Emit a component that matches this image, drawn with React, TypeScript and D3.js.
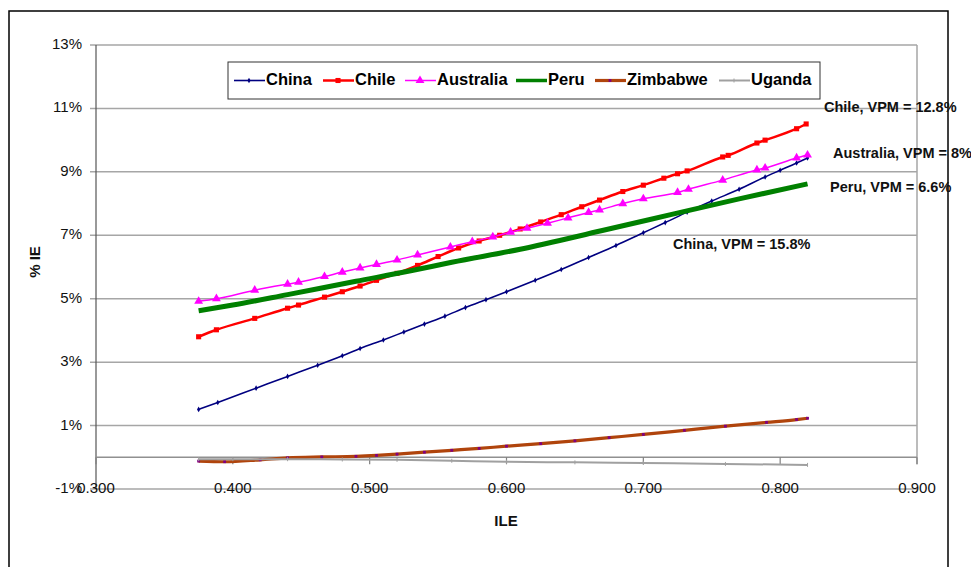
import React from "react";
import * as d3 from "d3";

// ILE (x) vs %IE (y) readings for each country
const chinaData: [number, number][] = [
  [0.375, 1.51], [0.389, 1.73], [0.417, 2.18], [0.44, 2.55], [0.462, 2.9], [0.48, 3.2],
  [0.493, 3.43], [0.51, 3.7], [0.525, 3.95], [0.54, 4.2], [0.555, 4.45], [0.57, 4.72],
  [0.585, 4.97], [0.6, 5.22], [0.621, 5.58], [0.64, 5.92], [0.66, 6.3], [0.68, 6.68],
  [0.7, 7.08], [0.716, 7.4], [0.732, 7.73], [0.75, 8.08], [0.77, 8.45], [0.789, 8.84],
  [0.8, 9.05], [0.812, 9.28], [0.82, 9.44],
];
const chileData: [number, number][] = [
  [0.375, 3.8], [0.388, 4.02], [0.416, 4.38], [0.44, 4.7], [0.448, 4.8], [0.467, 5.05],
  [0.48, 5.22], [0.493, 5.4], [0.505, 5.58], [0.52, 5.8], [0.535, 6.05], [0.55, 6.33],
  [0.565, 6.6], [0.58, 6.82], [0.595, 7.0], [0.61, 7.2], [0.625, 7.42], [0.64, 7.65],
  [0.655, 7.9], [0.668, 8.11], [0.685, 8.38], [0.7, 8.58], [0.715, 8.8], [0.725, 8.94],
  [0.732, 9.03], [0.758, 9.47], [0.762, 9.52], [0.783, 9.91], [0.789, 10.0],
  [0.812, 10.36], [0.819, 10.51],
];
const australiaData: [number, number][] = [
  [0.375, 4.92], [0.388, 5.0], [0.416, 5.27], [0.44, 5.46], [0.448, 5.52], [0.467, 5.7],
  [0.48, 5.84], [0.493, 5.97], [0.505, 6.08], [0.52, 6.22], [0.535, 6.38], [0.559, 6.63],
  [0.575, 6.8], [0.59, 6.95], [0.603, 7.1], [0.615, 7.22], [0.63, 7.38], [0.645, 7.55],
  [0.66, 7.72], [0.668, 7.8], [0.685, 8.0], [0.7, 8.15], [0.725, 8.35], [0.733, 8.45],
  [0.758, 8.74], [0.783, 9.06], [0.789, 9.12], [0.812, 9.44], [0.82, 9.53],
];
const peruData: [number, number][] = [
  [0.375, 4.62], [0.4, 4.8], [0.44, 5.13], [0.49, 5.55], [0.53, 5.88], [0.56, 6.15],
  [0.61, 6.56], [0.67, 7.15], [0.72, 7.65], [0.77, 8.15], [0.82, 8.62],
];
const zimbabweData: [number, number][] = [
  [0.375, -0.12], [0.394, -0.14], [0.42, -0.08], [0.44, -0.02], [0.465, 0.01], [0.49, 0.03],
  [0.505, 0.06], [0.52, 0.1], [0.54, 0.16], [0.56, 0.22], [0.58, 0.28], [0.6, 0.35],
  [0.625, 0.43], [0.65, 0.52], [0.675, 0.62], [0.7, 0.72], [0.73, 0.85], [0.76, 0.98],
  [0.79, 1.1], [0.812, 1.19], [0.82, 1.23],
];
const ugandaData: [number, number][] = [
  [0.375, -0.06], [0.4, -0.06], [0.44, -0.06], [0.48, -0.07], [0.52, -0.08], [0.56, -0.11],
  [0.6, -0.14], [0.65, -0.16], [0.7, -0.18], [0.76, -0.21], [0.82, -0.24],
];

const yTicks = [-1, 1, 3, 5, 7, 9, 11, 13];
const xTicks = [0.3, 0.4, 0.5, 0.6, 0.7, 0.8, 0.9];

type Marker = "diamond" | "square" | "triangle" | "none" | "dot" | "tick";

interface Series {
  name: string;
  data: [number, number][];
  color: string;
  width: number;
  marker: Marker;
  markerColor: string;
}

const series: Series[] = [
  { name: "China", data: chinaData, color: "#000080", width: 1.6, marker: "diamond", markerColor: "#000080" },
  { name: "Chile", data: chileData, color: "#FF0000", width: 2.5, marker: "square", markerColor: "#FF0000" },
  { name: "Australia", data: australiaData, color: "#FF00FF", width: 1.5, marker: "triangle", markerColor: "#FF00FF" },
  { name: "Peru", data: peruData, color: "#008000", width: 5, marker: "none", markerColor: "#008000" },
  { name: "Zimbabwe", data: zimbabweData, color: "#B0440C", width: 3.2, marker: "dot", markerColor: "#800080" },
  { name: "Uganda", data: ugandaData, color: "#A0A0A0", width: 2, marker: "tick", markerColor: "#A0A0A0" },
];

const legendX = [234, 323, 405, 516, 595, 719];

const annotations = [
  { text: "Chile, VPM = 12.8%", x: 824, y: 108 },
  { text: "Australia, VPM = 8%", x: 833, y: 154 },
  { text: "Peru, VPM = 6.6%", x: 830, y: 188 },
  { text: "China, VPM = 15.8%", x: 673, y: 245 },
];

const W = 971;
const H = 567;
const FONT = "'Liberation Sans', Arial, sans-serif";

const xScale = d3.scaleLinear().domain([0.3, 0.9]).range([96, 917]);
const yScale = d3.scaleLinear().domain([-1, 13]).range([489, 45]);

function markerPath(m: Marker): string | null {
  switch (m) {
    case "diamond":
      return d3.symbol(d3.symbolDiamond, 9)() as string;
    case "square":
      return d3.symbol(d3.symbolSquare, 26)() as string;
    case "triangle":
      return d3.symbol(d3.symbolTriangle, 34)() as string;
    case "dot":
      return d3.symbol(d3.symbolSquare, 8)() as string;
    default:
      return null;
  }
}

function Markers({ s, pts }: { s: Series; pts: [number, number][] }) {
  if (s.marker === "none") return null;
  if (s.marker === "tick") {
    return (
      <g>
        {pts.map(([px, py], i) => (
          <line key={i} x1={px} x2={px} y1={py - 2} y2={py + 2} stroke={s.markerColor} strokeWidth={1} />
        ))}
      </g>
    );
  }
  const d = markerPath(s.marker)!;
  return (
    <g>
      {pts.map(([px, py], i) => (
        <path key={i} d={d} transform={`translate(${px},${py})`} fill={s.markerColor} />
      ))}
    </g>
  );
}

export default function App() {
  const line = d3
    .line<[number, number]>()
    .x((d) => xScale(d[0]))
    .y((d) => yScale(d[1]))
    .curve(d3.curveMonotoneX);

  const x0 = xScale(0.3);
  const x1 = xScale(0.9);
  const yZero = yScale(0);

  return (
    <svg
      width={W}
      height={H}
      style={{ position: "absolute", left: 0, top: 0, background: "#fff" }}
      fontFamily={FONT}
    >
      <rect x={0} y={0} width={W} height={H} fill="#fff" />
      {/* chart frame */}
      <rect x={9} y={11} width={939} height={620} fill="none" stroke="#000" strokeWidth={1.5} />

      {/* gridlines and y ticks */}
      {yTicks.map((t) => (
        <g key={t}>
          <line x1={x0 - 6} x2={x1} y1={yScale(t)} y2={yScale(t)} stroke="#A6A6A6" strokeWidth={1.5} />
          <text x={82} y={yScale(t)} textAnchor="end" dominantBaseline="middle" fontSize={15} fill="#111">
            {`${t}%`}
          </text>
        </g>
      ))}

      {/* right edge of plot area */}
      <line x1={x1} x2={x1} y1={yScale(13)} y2={yZero + 7} stroke="#A6A6A6" strokeWidth={1.5} />

      {/* y axis */}
      <line x1={x0} x2={x0} y1={yScale(13)} y2={yScale(-1)} stroke="#555" strokeWidth={1.2} />

      {/* x axis at 0% */}
      <line x1={x0} x2={x1} y1={yZero} y2={yZero} stroke="#909090" strokeWidth={1.5} />
      {xTicks.map((t) => (
        <g key={t}>
          <line x1={xScale(t)} x2={xScale(t)} y1={yZero} y2={yZero + 7} stroke="#808080" strokeWidth={1.2} />
          <text x={xScale(t)} y={yScale(-1)} textAnchor="middle" dominantBaseline="middle" fontSize={15} fill="#111">
            {t.toFixed(3)}
          </text>
        </g>
      ))}

      {/* series */}
      {series.map((s) => (
        <g key={s.name}>
          <path d={line(s.data) as string} fill="none" stroke={s.color} strokeWidth={s.width} strokeLinejoin="round" />
          <Markers s={s} pts={s.data.map(([a, b]) => [xScale(a), yScale(b)] as [number, number])} />
        </g>
      ))}

      {/* axis titles */}
      <text
        transform={`translate(36,262) rotate(-90)`}
        textAnchor="middle"
        dominantBaseline="middle"
        fontSize={15}
        fontWeight="bold"
        fill="#111"
      >
        % IE
      </text>
      <text x={506} y={522} textAnchor="middle" dominantBaseline="middle" fontSize={15} fontWeight="bold" fill="#111">
        ILE
      </text>

      {/* legend */}
      <rect x={228} y={62} width={592} height={37} fill="#fff" stroke="#333" strokeWidth={1} />
      {series.map((s, i) => {
        const lx = legendX[i];
        const ly = 80.5;
        const mp: [number, number][] = [[lx + 15, ly]];
        return (
          <g key={s.name}>
            <line x1={lx} x2={lx + 31} y1={ly} y2={ly} stroke={s.color} strokeWidth={Math.min(s.width, 3.5)} />
            <Markers s={s} pts={mp} />
            <text x={lx + 32} y={ly} dominantBaseline="middle" fontSize={16.5} fontWeight="bold" fill="#000">
              {s.name}
            </text>
          </g>
        );
      })}

      {/* VPM annotations */}
      {annotations.map((a) => (
        <text key={a.text} x={a.x} y={a.y} dominantBaseline="middle" fontSize={14.5} fontWeight="bold" fill="#111">
          {a.text}
        </text>
      ))}
    </svg>
  );
}
